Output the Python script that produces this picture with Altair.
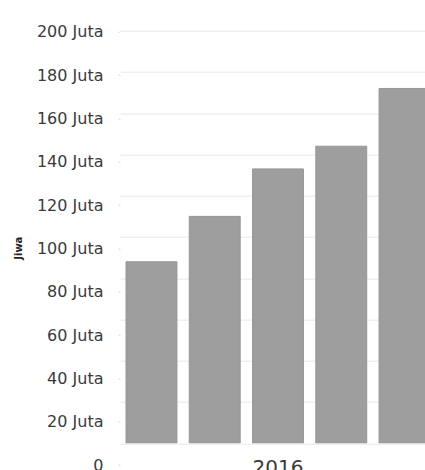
import altair as alt
import pandas as pd

# --- data ---
year = "2016"
series = ["Seri 1", "Seri 2", "Seri 3", "Seri 4", "Seri 5"]
values_juta = [88, 110, 133, 144, 172]          # jiwa, in Juta (millions)
tick_values = [0, 20, 40, 60, 80, 100, 120, 140, 160, 180, 200]

bars_df = pd.DataFrame({
    "year": [year] * len(series),
    "series": series,
    "value": values_juta,
})
ticks_df = pd.DataFrame({"v": tick_values})

FONT = "DejaVu Sans"
label_expr = "datum.value == 0 ? '0' : datum.value + ' Juta'"

bars = alt.Chart(bars_df).mark_bar(
    color="#9e9e9e", stroke="#969696", strokeWidth=1, clip=True
).encode(
    x=alt.X(
        "year:N",
        scale=alt.Scale(range=[0, 316], paddingInner=0, paddingOuter=0),
        axis=alt.Axis(
            title=None, domain=False, ticks=False, labelAngle=0,
            labelFont=FONT, labelFontSize=20, labelColor="#3a3a3a",
            labelBaseline="top", labelPadding=14,
        ),
    ),
    xOffset=alt.XOffset(
        "series:N",
        sort=series,
        scale=alt.Scale(paddingInner=0.195, paddingOuter=0.095),
    ),
    y=alt.Y(
        "value:Q",
        scale=alt.Scale(domain=[0, 200], nice=False, zero=True),
        axis=alt.Axis(
            orient="left", grid=True, gridColor="#f0f0f0", gridWidth=1.5,
            labels=False, ticks=False, domain=False, title=None,
            values=tick_values,
        ),
    ),
)

labels = alt.Chart(ticks_df).mark_point(opacity=0).encode(
    y=alt.Y(
        "v:Q",
        scale=alt.Scale(domain=[0, 200], range=[434.3, 1.0], nice=False),
        axis=alt.Axis(
            orient="left", grid=False, domain=False,
            ticks=True, tickSize=2, tickColor="#d8d8d8",
            values=tick_values, labelExpr=label_expr,
            labelFont=FONT, labelFontSize=16, labelColor="#3a3a3a",
            labelPadding=15,
            title="Jiwa", titleFont=FONT, titleFontSize=10,
            titleFontWeight="bold", titleColor="#222222",
            titleAngle=270, titleX=-102, titleY=217,
            titleAlign="center", titleBaseline="middle",
        ),
    ),
)

chart = alt.layer(bars, labels).resolve_scale(y="independent").properties(
    width=305,
    height=412.6,
    autosize=alt.AutoSizeParams(type="none"),
    padding={"left": 120, "top": 30.7, "right": 0, "bottom": 26.7},
    background="white",
).configure_view(stroke=None)

chart.save("out.html", embed_options={"renderer": "svg", "actions": False})
